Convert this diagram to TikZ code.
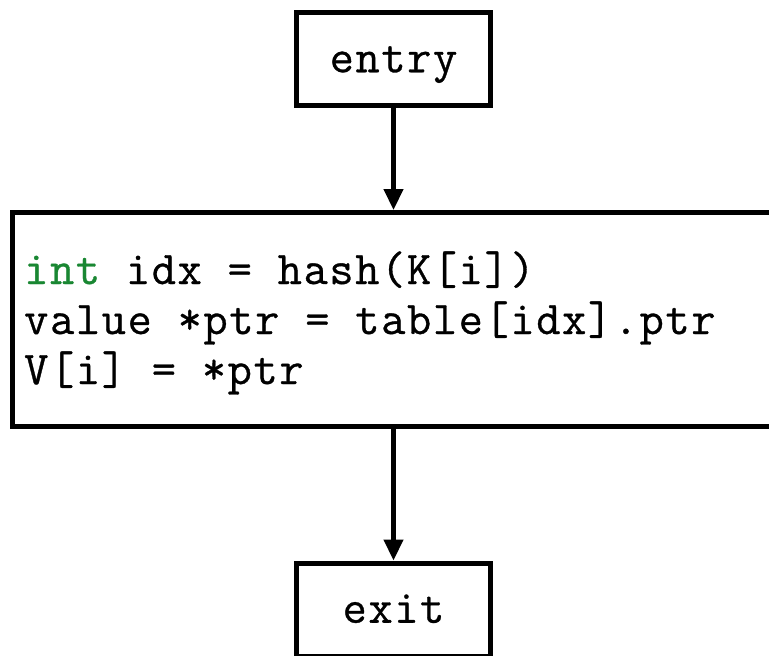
\documentclass[tikz,border=0pt]{standalone}
\usepackage{fontspec}
\newfontfamily\codefont{Latin Modern Mono}[LetterSpace=3.5,FakeBold=0.7]
\usetikzlibrary{arrows.meta}
\definecolor{kwgreen}{RGB}{25,135,50}
\tikzset{
  blockbox/.style={draw=black, line width=5pt, fill=white, inner sep=0pt,
    font=\codefont\fontsize{47pt}{50pt}\selectfont},
  labelbox/.style={blockbox, minimum width=194pt, minimum height=93pt,
    text height=30.5pt, text depth=4pt},
  codeline/.style={anchor=base west, inner sep=0pt,
    font=\codefont\fontsize{47pt}{50pt}\selectfont},
  flow/.style={line width=4.5pt, -{Triangle[length=21pt,width=19pt]}}
}
\begin{document}
\begin{tikzpicture}[x=1pt,y=-1pt]
\useasboundingbox (0,0) rectangle (769,656);
\clip (0,0) rectangle (769,656);
\node[labelbox] (entry) at (393.5,59) {entry};
\node[blockbox, minimum width=763pt, minimum height=213.5pt] (body) at (393.5,319.25) {};
\node[codeline] (code1) at (24,284) {\textcolor{kwgreen}{int} idx = hash(K[i])};
\node[codeline] (code2) at (24,334) {value *ptr = table[idx].ptr};
\node[codeline] (code3) at (24,384) {V[i] = *ptr};
\node[labelbox] (exit) at (393.5,609.5) {exit};
\draw[flow] (entry.south) -- (body.north);
\draw[flow] (body.south) -- (exit.north);
\end{tikzpicture}
\end{document}
